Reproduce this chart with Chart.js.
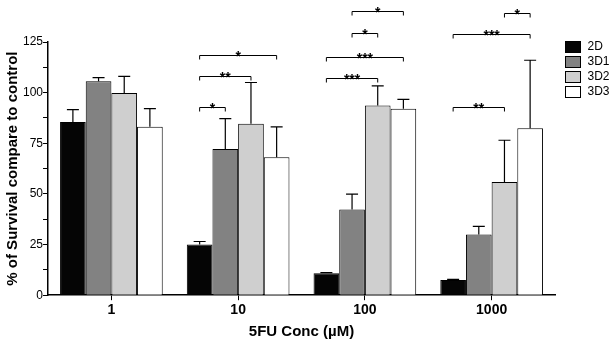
<!DOCTYPE html>
<html lang="en">
<head>
    <meta charset="UTF-8">
    <title>5FU survival</title>
    <script src="https://cdn.jsdelivr.net/npm/chart.js"></script>
    <style>
        body { margin: 0; background: #fff; }
        #wrap { width: 610px; height: 344px; }
    </style>
</head>
<body>
    <div id="wrap"><canvas id="survivalChart"></canvas></div>

    <script>
        // data
        const concLabels = ['1', '10', '100', '1000'];
        const seriesNames = ['2D', '3D1', '3D2', '3D3'];
        const mean2D  = [85.5, 25, 10.8, 7.5];
        const mean3D1 = [105.6, 72.2, 42.3, 30];
        const mean3D2 = [99.8, 84.7, 93.6, 55.9];
        const mean3D3 = [83.2, 68.1, 92.1, 82.4];
        const sd2D  = [6.1, 1.5, 0.3, 0.3];
        const sd3D1 = [1.8, 15, 7.6, 4];
        const sd3D2 = [8.2, 20.3, 9.7, 20.6];
        const sd3D3 = [8.9, 15, 4.6, 33.6];
        const fills = ['#050505', '#828282', '#cfcfcf', '#ffffff'];
        const yTicks = [0, 25, 50, 75, 100, 125];

        // significance brackets: [group, fromSeries, toSeries, level, stars]
        const brackets = [
            [1, 0, 1, 93, '*'],
            [1, 0, 2, 108, '**'],
            [1, 0, 3, 118.5, '*'],
            [2, 0, 2, 107.2, '***'],
            [2, 0, 3, 117.6, '***'],
            [2, 1, 2, 129.5, '*'],
            [2, 1, 3, 140.2, '*'],
            [3, 0, 2, 93, '**'],
            [3, 0, 3, 129.1, '***'],
            [3, 2, 3, 139.3, '*']
        ];

        const means = [mean2D, mean3D1, mean3D2, mean3D3];
        const sds = [sd2D, sd3D1, sd3D2, sd3D3];

        const fontFam = 'Arial, "Liberation Sans", sans-serif';

        // upper error bars, significance brackets and the legend on the right
        const extras = {
            id: 'extras',
            afterDatasetsDraw(chart) {
                const ctx = chart.ctx;
                const y = chart.scales.y;
                ctx.save();
                ctx.strokeStyle = '#000';
                ctx.lineWidth = 1.2;
                means.forEach((vals, s) => {
                    const meta = chart.getDatasetMeta(s);
                    vals.forEach((v, i) => {
                        const bar = meta.data[i];
                        const yTop = y.getPixelForValue(v + sds[s][i]);
                        ctx.beginPath();
                        ctx.moveTo(bar.x, bar.y);
                        ctx.lineTo(bar.x, yTop);
                        ctx.moveTo(bar.x - 6, yTop);
                        ctx.lineTo(bar.x + 6, yTop);
                        ctx.stroke();
                    });
                });

                ctx.lineWidth = 1;
                ctx.fillStyle = '#000';
                ctx.font = 'bold 14px ' + fontFam;
                ctx.textAlign = 'center';
                ctx.textBaseline = 'alphabetic';
                brackets.forEach(([g, a, b, level, stars]) => {
                    const x1 = chart.getDatasetMeta(a).data[g].x;
                    const x2 = chart.getDatasetMeta(b).data[g].x;
                    const py = Math.round(y.getPixelForValue(level)) + 0.5;
                    ctx.beginPath();
                    ctx.moveTo(x1, py + 4);
                    ctx.lineTo(x1, py);
                    ctx.lineTo(x2, py);
                    ctx.lineTo(x2, py + 4);
                    ctx.stroke();
                    ctx.fillText(stars, (x1 + x2) / 2, py + 5);
                });

                // legend
                const lx = chart.chartArea.right + 10.5;
                ctx.font = '12px ' + fontFam;
                ctx.textAlign = 'left';
                ctx.textBaseline = 'middle';
                chart.data.datasets.forEach((ds, s) => {
                    const cy = 47 + s * 15;
                    ctx.fillStyle = ds.backgroundColor;
                    ctx.fillRect(lx, Math.round(cy - 6) + 0.5, 15, 11);
                    ctx.strokeStyle = '#000';
                    ctx.strokeRect(lx, Math.round(cy - 6) + 0.5, 15, 11);
                    ctx.fillStyle = '#000';
                    ctx.fillText(ds.label, lx + 22, cy);
                });
                ctx.restore();
            }
        };

        const ctx = document.getElementById('survivalChart').getContext('2d');
        new Chart(ctx, {
            type: 'bar',
            data: {
                labels: concLabels,
                datasets: seriesNames.map((name, s) => ({
                    label: name,
                    data: means[s],
                    backgroundColor: fills[s],
                    borderColor: '#000',
                    borderWidth: 1,
                    barPercentage: 1.0,
                    categoryPercentage: 0.81
                }))
            },
            options: {
                responsive: true,
                maintainAspectRatio: false,
                animation: false,
                layout: { padding: { top: 42, right: 55, left: 2, bottom: 3 } },
                plugins: {
                    tooltip: { enabled: false },
                    legend: { display: false }
                },
                scales: {
                    x: {
                        border: { color: '#000', width: 1.5 },
                        grid: { display: true, drawOnChartArea: false, offset: false, color: '#000', tickLength: 5 },
                        ticks: { color: '#000', font: { family: fontFam, size: 14, weight: 'bold' }, padding: 2 },
                        title: { display: true, text: '5FU Conc (µM)', color: '#000', font: { family: fontFam, size: 15, weight: 'bold' }, padding: { top: 2, bottom: 0 } }
                    },
                    y: {
                        min: 0,
                        max: 125,
                        border: { color: '#000', width: 1.5 },
                        grid: { display: true, drawOnChartArea: false, color: '#000', tickLength: 5 },
                        ticks: {
                            stepSize: 12.5,
                            color: '#000',
                            font: { family: fontFam, size: 12 },
                            padding: 0,
                            callback: v => yTicks.includes(v) ? v : ''
                        },
                        title: { display: true, text: '% of Survival compare to control', color: '#000', font: { family: fontFam, size: 15, weight: 'bold' }, padding: { top: 2, bottom: 1 } }
                    }
                }
            },
            plugins: [extras]
        });
    </script>
</body>
</html>
